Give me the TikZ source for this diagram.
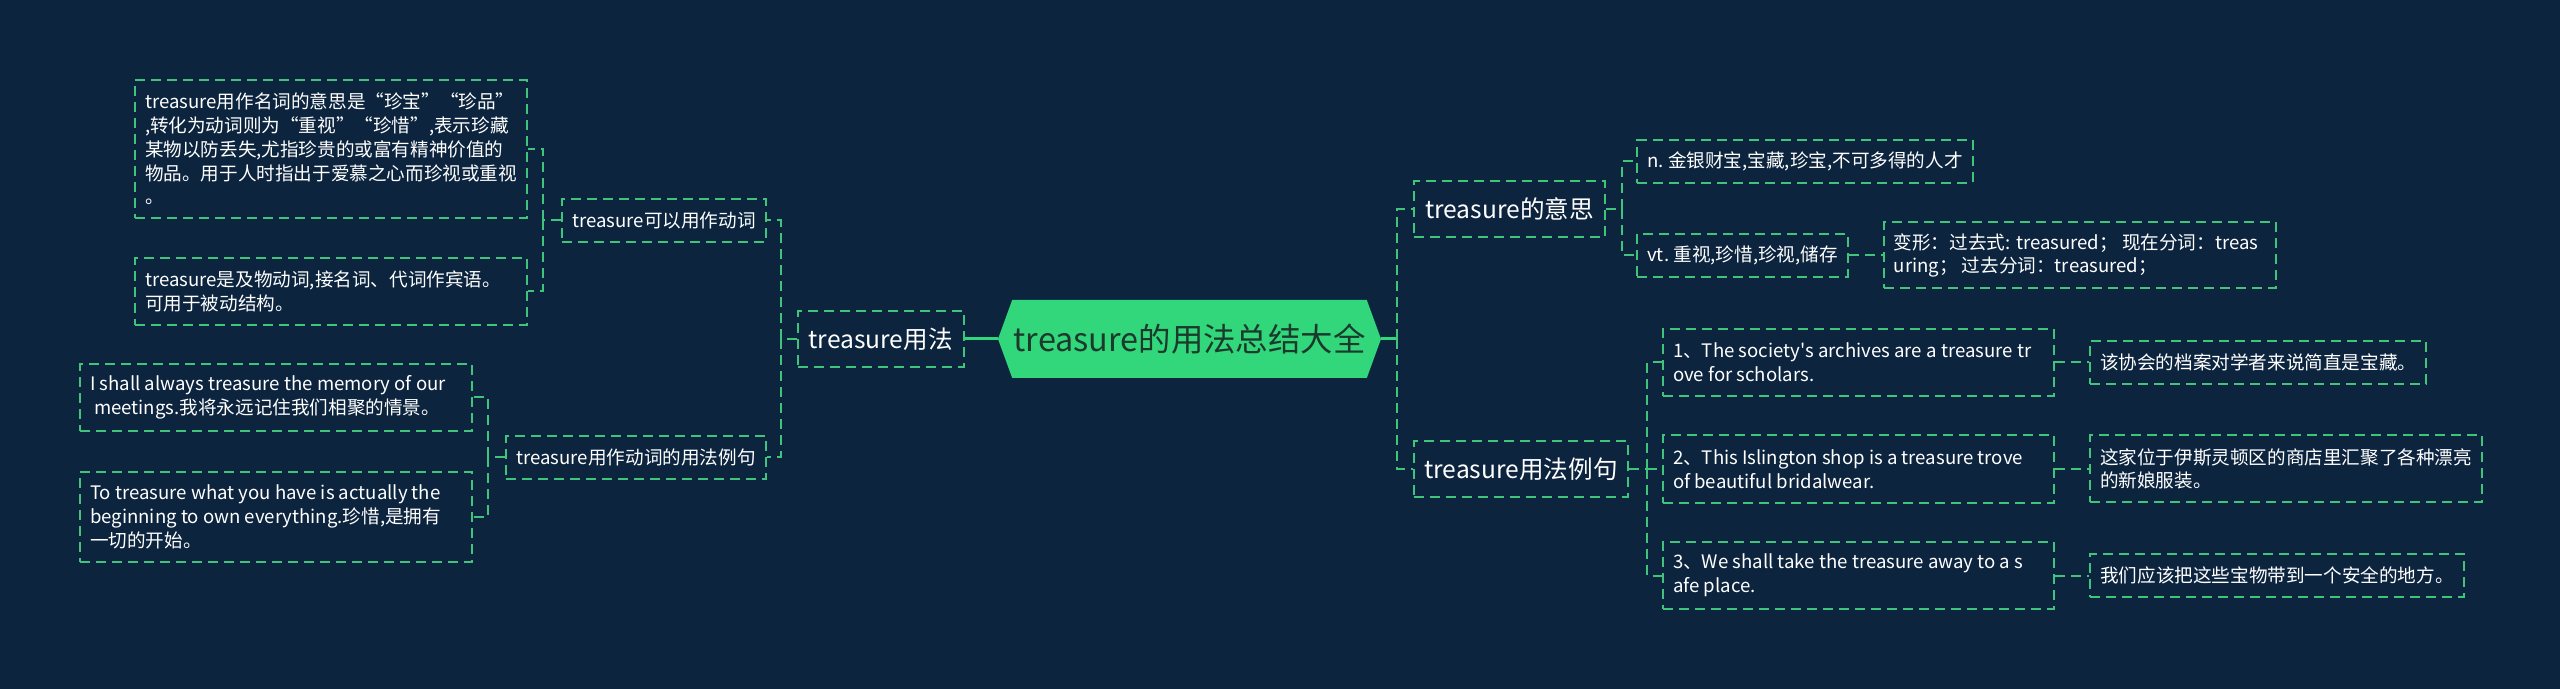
\documentclass[tikz,border=0pt]{standalone}
\usepackage{fontspec}
\setmainfont{Noto Sans CJK SC}
\newfontfamily\plainapos{Noto Sans CJK SC}
\usetikzlibrary{shapes,positioning}

\definecolor{navy}{RGB}{12,36,62}
\definecolor{lnk}{RGB}{64,196,124}
\definecolor{rootfill}{RGB}{50,214,123}
\definecolor{roottext}{RGB}{28,58,44}

\begin{document}
\begin{tikzpicture}[x=0.5pt, y=-0.5pt, node distance=17pt]
    % Define block styles
    \tikzstyle{dashbox} = [rectangle, draw=lnk, line width=1pt, dash pattern=on 5pt off 3pt, text=white, inner xsep=5pt, inner ysep=0pt, align=flush left]
    \tikzstyle{mainbox} = [dashbox, font=\fontsize{12.3pt}{15pt}\selectfont, minimum height=28pt]
    \tikzstyle{subbox} = [dashbox, font=\fontsize{9.3pt}{11.85pt}\selectfont, minimum height=21.5pt]
    \tikzstyle{rootbox} = [signal, signal to=west and east, signal pointer angle=140, fill=rootfill, text=roottext, font=\fontsize{16.2pt}{18pt}\selectfont, minimum width=191.5pt, minimum height=39pt, inner sep=0pt]
    \tikzstyle{link} = [draw=lnk, line width=1pt, dash pattern=on 5pt off 3pt]
    \tikzstyle{trunk} = [draw=rootfill, line width=1.5pt]

    % Background
    \fill[navy] (0,0) rectangle (2560,689);
    \useasboundingbox (0,0) rectangle (2560,689);

    % Nodes
    \node [rootbox] (root) at (1189.5,339) {treasure的用法总结大全};

    \node [mainbox, minimum width=83pt, left=16.5pt of root] (use) {treasure用法};
    \node [subbox, minimum width=102pt] (verb) at (664,220.5) {treasure可以用作动词};
    \node [subbox, minimum width=130pt] (verbEx) at (636,457.5) {treasure用作动词的用法例句};
    \node [subbox, text width=186pt, minimum height=69pt] (nounDef) at (331,149) {treasure用作名词的意思是“珍宝”“珍品”\\,转化为动词则为“重视”“珍惜”,表示珍藏\\某物以防丢失,尤指珍贵的或富有精神价值的\\物品。用于人时指出于爱慕之心而珍视或重视\\。};
    \node [subbox, text width=186pt, minimum height=33.5pt] (verbDef) at (331,291.5) {treasure是及物动词,接名词、代词作宾语。\\可用于被动结构。};
    \node [subbox, text width=186pt, minimum height=33.5pt] (sentA) at (276,397.5) {I shall always treasure the memory of our\\\ meetings.我将永远记住我们相聚的情景。};
    \node [subbox, text width=186pt, minimum height=45pt] (sentB) at (276,517) {To treasure what you have is actually the\\beginning to own everything.珍惜,是拥有\\一切的开始。};

    \node [mainbox, minimum width=95.5pt] (meaning) at (1509.5,209) {treasure的意思};
    \node [mainbox, minimum width=107pt] (examples) at (1521,469) {treasure用法例句};
    \node [subbox, minimum width=167pt] (noun) at (1805,161.5) {n.~金银财宝,宝藏,珍宝,不可多得的人才};
    \node [subbox, minimum width=104.5pt] (vt) at (1742.5,255.5) {vt.~重视,珍惜,珍视,储存};
    \node [subbox, text width=186pt, minimum height=33pt, right=of vt] (forms) {变形：过去式: treasured； 现在分词：treas\\uring； 过去分词：treasured；};
    \node [subbox, text width=185.5pt, minimum height=33.5pt] (exA) at (1858.5,362.5) {1、The society{\plainapos'}s archives are a treasure tr\\ove for scholars.};
    \node [subbox, text width=185.5pt, minimum height=34pt] (exB) at (1858.5,469) {2、This Islington shop is a treasure trove\\of beautiful bridalwear.};
    \node [subbox, text width=185.5pt, minimum height=33.5pt] (exC) at (1858.5,575.5) {3、We shall take the treasure away to a s\\afe place.};
    \node [subbox, minimum width=168pt, right=of exA] (cnA) {该协会的档案对学者来说简直是宝藏。};
    \node [subbox, text width=186pt, minimum height=33.5pt, right=of exB] (cnB) {这家位于伊斯灵顿区的商店里汇聚了各种漂亮\\的新娘服装。};
    \node [subbox, minimum width=187pt, right=of exC] (cnC) {我们应该把这些宝物带到一个安全的地方。};

    % Arrows
    \path [trunk] (root.west) -- (use.east);
    \path [trunk] (root.east) -- ++(16,0) coordinate (rootBus);
    \path [link] (rootBus) |- (meaning.west);
    \path [link] (rootBus) |- (examples.west);

    \path [link] (use.west) -- ++(-16,0) coordinate (useBus);
    \path [link] (useBus) |- (verb.east);
    \path [link] (useBus) |- (verbEx.east);
    \path [link] (verb.west) -- ++(-18,0) coordinate (verbBus);
    \path [link] (verbBus) |- (nounDef.east);
    \path [link] (verbBus) |- (verbDef.east);
    \path [link] (verbEx.west) -- ++(-17,0) coordinate (verbExBus);
    \path [link] (verbExBus) |- (sentA.east);
    \path [link] (verbExBus) |- (sentB.east);

    \path [link] (meaning.east) -- ++(16,0) coordinate (meaningBus);
    \path [link] (meaningBus) |- (noun.west);
    \path [link] (meaningBus) |- (vt.west);
    \path [link] (vt.east) -- (forms.west);
    \path [link] (examples.east) -- ++(18,0) coordinate (examplesBus);
    \path [link] (examplesBus) |- (exA.west);
    \path [link] (examplesBus) |- (exB.west);
    \path [link] (examplesBus) |- (exC.west);
    \path [link] (exA.east) -- (cnA.west);
    \path [link] (exB.east) -- (cnB.west);
    \path [link] (exC.east) -- (cnC.west);

  \end{tikzpicture}
\end{document}
